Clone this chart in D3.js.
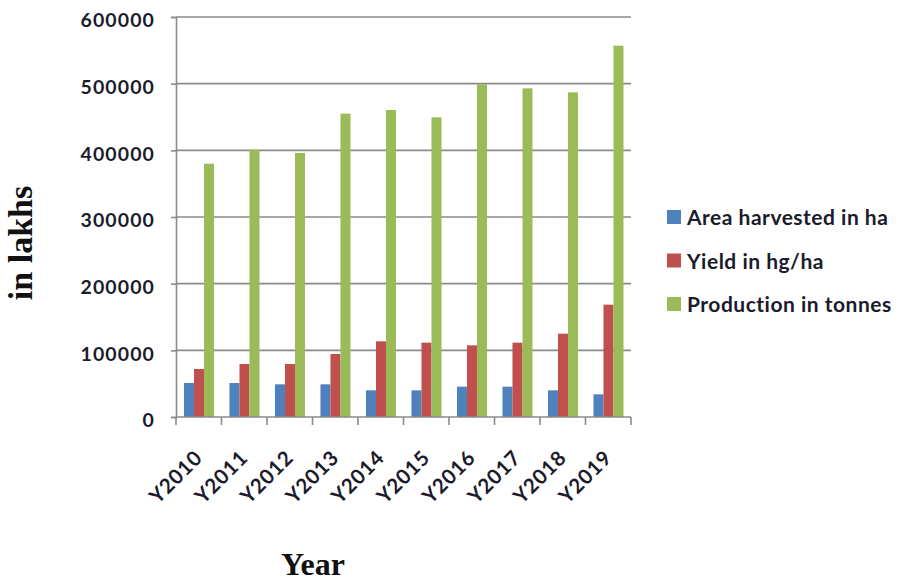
<!DOCTYPE html>
<html>
<head>
<meta charset="utf-8">
<script src="https://cdn.jsdelivr.net/npm/d3@7"></script>
<style>
  html, body { margin: 0; padding: 0; background: #fff; }
  svg { display: block; }
</style>
</head>
<body>
<svg id="chart" width="901" height="582"></svg>
<script>
// Years on the category axis
const years = ["Y2010","Y2011","Y2012","Y2013","Y2014","Y2015","Y2016","Y2017","Y2018","Y2019"];

// Series names (legend order)
const seriesNames = ["Area harvested in ha", "Yield in hg/ha", "Production in tonnes"];
const seriesColors = ["#4f81bd", "#c0504d", "#9bbb59"];

// Values per series, one per year
const areaHarvested = [51000, 51000, 49000, 49000, 40000, 40000, 45500, 45500, 40000, 34000];
const yieldValues   = [72000, 79500, 79500, 94500, 113500, 111500, 107500, 111500, 125000, 168500];
const production    = [380000, 401000, 396000, 455000, 460500, 449500, 499000, 493000, 487000, 557000];

// Value-axis ticks
const yTicks = [0, 100000, 200000, 300000, 400000, 500000, 600000];

const seriesValues = [areaHarvested, yieldValues, production];

const svg = d3.select("#chart");

const plot = { left: 176, right: 631, top: 17, bottom: 417 };

const y = d3.scaleLinear().domain([0, 600000]).range([plot.bottom, plot.top]);
const x0 = d3.scaleBand().domain(years).range([plot.left, plot.right]).padding(0);
const bw = x0.bandwidth();
const x1 = d3.scaleBand().domain(seriesNames).range([bw * 0.175, bw * 0.835]).padding(0);

const gridColor = "#8a8a8a";
const labelColor = "#1b1b2b";

// Horizontal gridlines
svg.append("g")
  .selectAll("line")
  .data(yTicks.filter(d => d > 0))
  .join("line")
  .attr("x1", plot.left).attr("x2", plot.right)
  .attr("y1", d => y(d)).attr("y2", d => y(d))
  .attr("stroke", gridColor).attr("stroke-width", 1.6);

// Bars
const groups = svg.append("g")
  .selectAll("g")
  .data(years)
  .join("g")
  .attr("transform", d => `translate(${x0(d)},0)`);

groups.selectAll("rect")
  .data((yr, i) => seriesNames.map((s, k) => ({ s, k, v: seriesValues[k][i] })))
  .join("rect")
  .attr("x", d => x1(d.s))
  .attr("width", x1.bandwidth())
  .attr("y", d => y(d.v))
  .attr("height", d => y(0) - y(d.v))
  .attr("fill", d => seriesColors[d.k]);

// Value axis
const yAxis = d3.axisLeft(y).tickValues(yTicks).tickSize(5).tickFormat(d3.format("d"));
const yG = svg.append("g").attr("transform", `translate(${plot.left},0)`).call(yAxis);
yG.select(".domain").attr("stroke", gridColor).attr("stroke-width", 1.6);
yG.selectAll(".tick line").attr("stroke", gridColor).attr("stroke-width", 1.6);
yG.selectAll(".tick text")
  .attr("x", -21)
  .attr("dy", "0.5em")
  .attr("fill", labelColor)
  .style("font-family", "Lato")
  .style("font-weight", "bold")
  .style("font-size", "19.5px")
  .style("letter-spacing", "1.1px");

// Category axis
const xAxisLine = svg.append("g");
xAxisLine.append("line")
  .attr("x1", plot.left).attr("x2", plot.right)
  .attr("y1", y(0)).attr("y2", y(0))
  .attr("stroke", gridColor).attr("stroke-width", 1.6);
const boundaries = years.map(d => x0(d)).concat([plot.right]);
xAxisLine.selectAll("line.tk")
  .data(boundaries)
  .join("line")
  .attr("class", "tk")
  .attr("x1", d => d).attr("x2", d => d)
  .attr("y1", y(0)).attr("y2", y(0) + 8)
  .attr("stroke", gridColor).attr("stroke-width", 1.6);

svg.append("g")
  .selectAll("text")
  .data(years)
  .join("text")
  .attr("transform", d => `translate(${x0(d) + bw / 2 + 5},${y(0) + 42}) rotate(-45)`)
  .attr("text-anchor", "end")
  .attr("fill", labelColor)
  .style("font-family", "Lato")
  .style("font-weight", "bold")
  .style("font-size", "20.5px")
  .style("letter-spacing", "0.8px")
  .text(d => d);

// Axis titles
svg.append("text")
  .attr("x", 313).attr("y", 575)
  .attr("text-anchor", "middle")
  .attr("fill", "#111")
  .style("font-family", "Liberation Serif")
  .style("font-weight", "bold")
  .style("font-size", "32px")
  .text("Year");

svg.append("text")
  .attr("transform", "translate(32,243) rotate(-90)")
  .attr("text-anchor", "middle")
  .attr("fill", "#111")
  .style("font-family", "Liberation Serif")
  .style("font-weight", "bold")
  .style("font-size", "34px")
  .text("in lakhs");

// Legend
const legend = svg.append("g")
  .selectAll("g")
  .data(seriesNames)
  .join("g")
  .attr("transform", (d, i) => `translate(667,${225 + i * 43.5})`);

legend.append("rect")
  .attr("x", 0).attr("y", -15)
  .attr("width", 14).attr("height", 14)
  .attr("fill", (d, i) => seriesColors[i]);

legend.append("text")
  .attr("x", 20).attr("y", 0)
  .attr("fill", labelColor)
  .style("font-family", "Lato")
  .style("font-weight", "bold")
  .style("font-size", "21px")
  .style("letter-spacing", "0.5px")
  .text(d => d);
</script>
</body>
</html>
